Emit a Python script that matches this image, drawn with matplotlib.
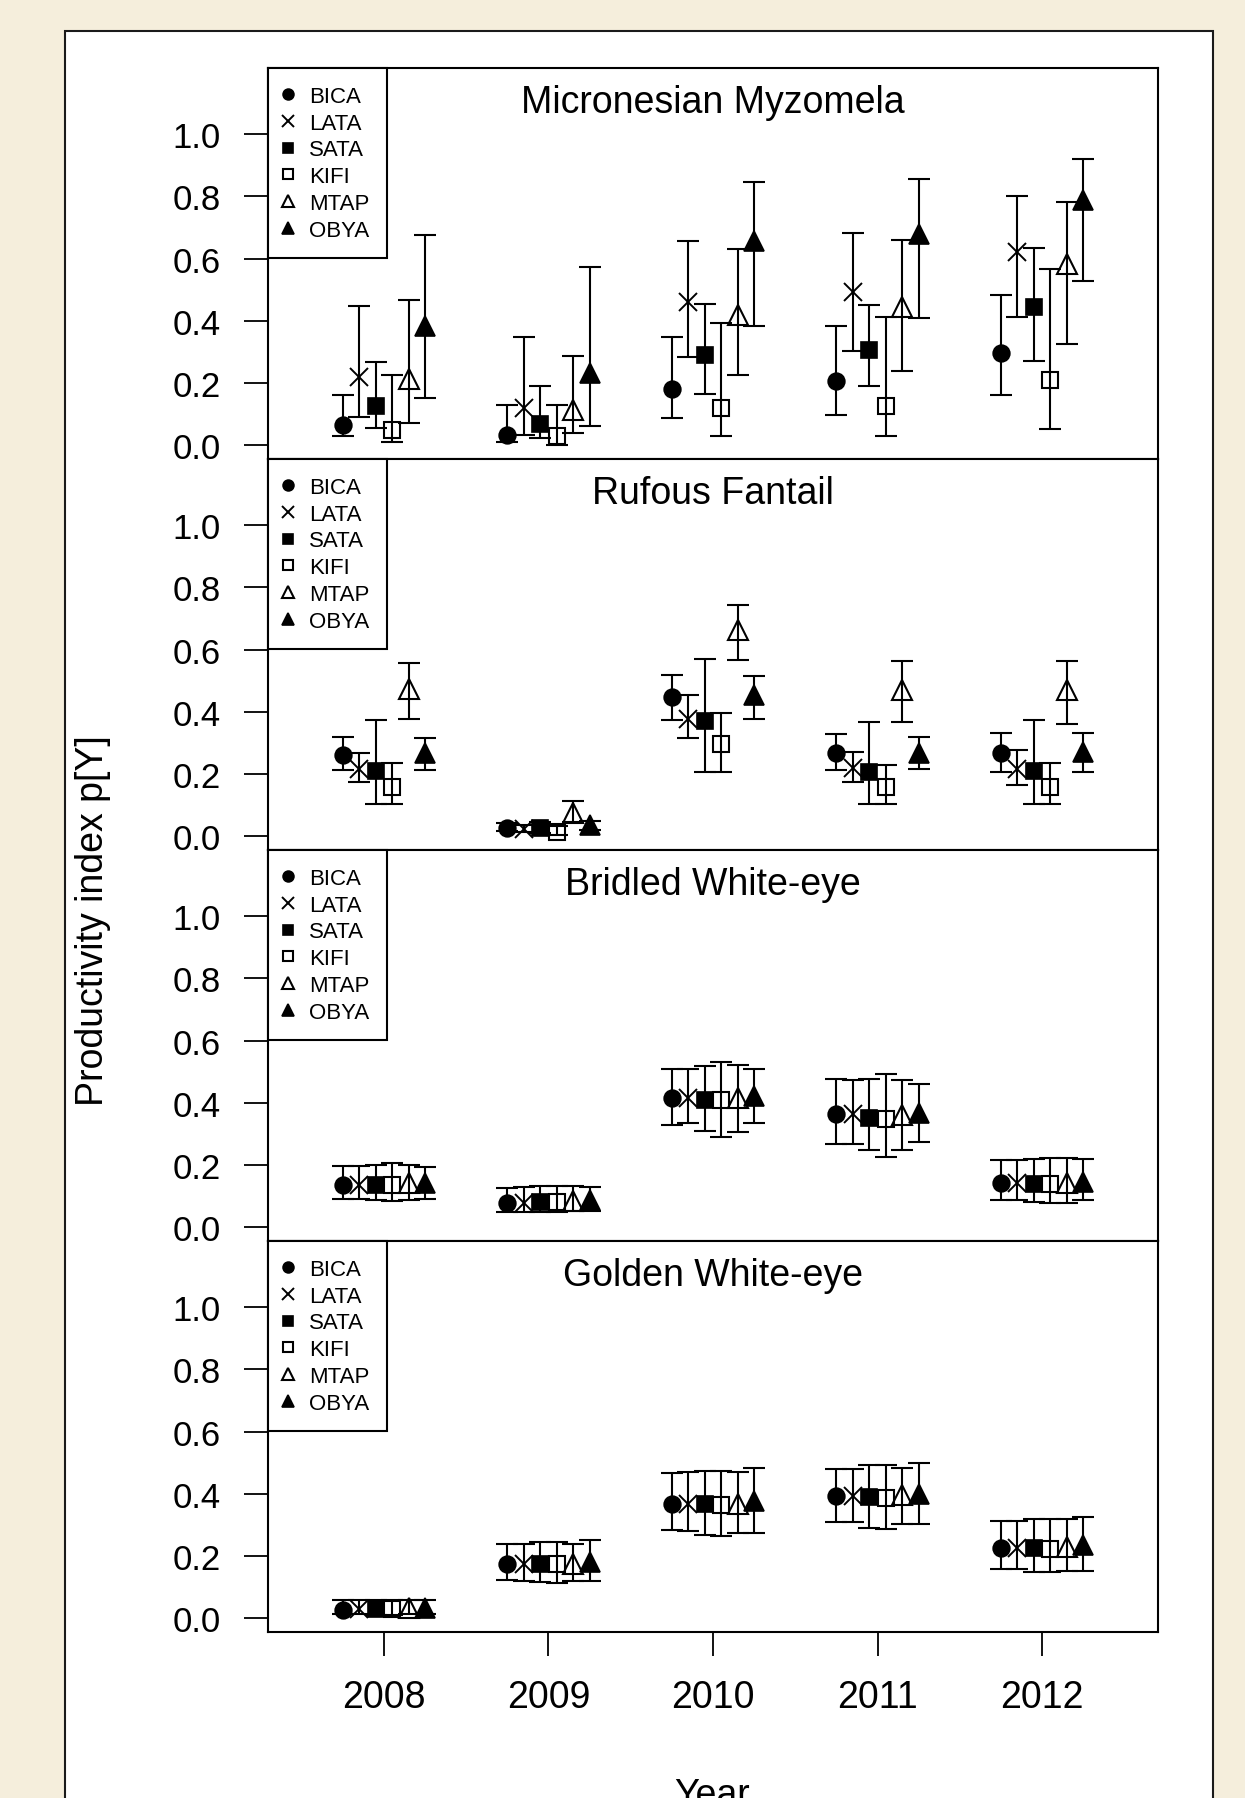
import numpy as np
import matplotlib.pyplot as plt
from matplotlib.lines import Line2D
from matplotlib.patches import Rectangle

plt.rcParams['font.family'] = ['Liberation Sans', 'DejaVu Sans']

years = [2008, 2009, 2010, 2011, 2012]
sites = ['BICA', 'LATA', 'SATA', 'KIFI', 'MTAP', 'OBYA']
species = ['Micronesian Myzomela', 'Rufous Fantail', 'Bridled White-eye', 'Golden White-eye']

# rows = sites, columns = years
mimy_mean = [[0.065, 0.032, 0.180, 0.204, 0.296],
             [0.217, 0.118, 0.460, 0.492, 0.622],
             [0.126, 0.067, 0.288, 0.304, 0.444],
             [0.048, 0.027, 0.118, 0.124, 0.207],
             [0.212, 0.113, 0.419, 0.444, 0.581],
             [0.382, 0.231, 0.656, 0.678, 0.790]]
mimy_lo = [[0.027, 0.009, 0.085, 0.097, 0.160],
           [0.088, 0.032, 0.282, 0.303, 0.412],
           [0.054, 0.022, 0.163, 0.190, 0.269],
           [0.009, 0.000, 0.027, 0.029, 0.051],
           [0.070, 0.038, 0.224, 0.237, 0.323],
           [0.151, 0.061, 0.384, 0.409, 0.527]]
mimy_hi = [[0.161, 0.127, 0.347, 0.382, 0.483],
           [0.446, 0.347, 0.658, 0.683, 0.800],
           [0.267, 0.188, 0.454, 0.449, 0.634],
           [0.224, 0.127, 0.392, 0.411, 0.565],
           [0.466, 0.287, 0.632, 0.660, 0.783],
           [0.676, 0.573, 0.848, 0.857, 0.922]]

rufa_mean = [[0.261, 0.026, 0.447, 0.268, 0.265],
             [0.214, 0.023, 0.377, 0.218, 0.214],
             [0.207, 0.026, 0.369, 0.205, 0.207],
             [0.157, 0.012, 0.294, 0.157, 0.157],
             [0.474, 0.073, 0.662, 0.469, 0.469],
             [0.268, 0.033, 0.453, 0.268, 0.270]]
rufa_lo = [[0.213, 0.015, 0.374, 0.211, 0.205],
           [0.173, 0.012, 0.315, 0.173, 0.165],
           [0.103, 0.010, 0.205, 0.103, 0.103],
           [0.103, 0.003, 0.205, 0.101, 0.101],
           [0.375, 0.044, 0.565, 0.365, 0.361],
           [0.213, 0.020, 0.377, 0.216, 0.205]]
rufa_hi = [[0.317, 0.040, 0.517, 0.327, 0.331],
           [0.265, 0.036, 0.453, 0.270, 0.277],
           [0.372, 0.045, 0.571, 0.367, 0.372],
           [0.235, 0.030, 0.396, 0.229, 0.233],
           [0.557, 0.112, 0.743, 0.562, 0.563],
           [0.315, 0.046, 0.515, 0.318, 0.332]]

brwe_mean = [[0.135, 0.078, 0.415, 0.364, 0.140],
             [0.135, 0.078, 0.415, 0.364, 0.140],
             [0.135, 0.080, 0.407, 0.350, 0.138],
             [0.135, 0.080, 0.407, 0.347, 0.138],
             [0.140, 0.082, 0.415, 0.360, 0.140],
             [0.140, 0.085, 0.422, 0.365, 0.145]]
brwe_lo = [[0.089, 0.049, 0.328, 0.266, 0.086],
           [0.089, 0.049, 0.334, 0.266, 0.086],
           [0.087, 0.047, 0.307, 0.246, 0.080],
           [0.083, 0.046, 0.288, 0.226, 0.078],
           [0.087, 0.050, 0.304, 0.248, 0.078],
           [0.089, 0.050, 0.334, 0.273, 0.086]]
brwe_hi = [[0.196, 0.126, 0.509, 0.477, 0.215],
           [0.196, 0.128, 0.509, 0.474, 0.215],
           [0.200, 0.130, 0.517, 0.477, 0.218],
           [0.205, 0.132, 0.531, 0.493, 0.221],
           [0.200, 0.130, 0.522, 0.474, 0.221],
           [0.194, 0.128, 0.508, 0.461, 0.218]]

gowe_mean = [[0.026, 0.172, 0.368, 0.392, 0.225],
             [0.027, 0.172, 0.368, 0.392, 0.225],
             [0.028, 0.174, 0.365, 0.389, 0.225],
             [0.028, 0.172, 0.362, 0.387, 0.223],
             [0.030, 0.174, 0.368, 0.395, 0.227],
             [0.030, 0.180, 0.375, 0.400, 0.233]]
gowe_lo = [[0.011, 0.121, 0.282, 0.309, 0.156],
           [0.011, 0.119, 0.280, 0.309, 0.156],
           [0.010, 0.115, 0.266, 0.289, 0.148],
           [0.010, 0.113, 0.262, 0.285, 0.148],
           [0.012, 0.119, 0.272, 0.302, 0.150],
           [0.012, 0.117, 0.272, 0.302, 0.152]]
gowe_hi = [[0.056, 0.237, 0.465, 0.479, 0.311],
           [0.056, 0.237, 0.470, 0.479, 0.311],
           [0.057, 0.244, 0.474, 0.492, 0.317],
           [0.057, 0.244, 0.474, 0.492, 0.317],
           [0.058, 0.237, 0.470, 0.481, 0.317],
           [0.058, 0.250, 0.481, 0.497, 0.325]]

panels = [(mimy_mean, mimy_lo, mimy_hi),
          (rufa_mean, rufa_lo, rufa_hi),
          (brwe_mean, brwe_lo, brwe_hi),
          (gowe_mean, gowe_lo, gowe_hi)]

offsets = [-0.25, -0.15, -0.05, 0.05, 0.15, 0.25]
styles = [dict(marker='o', ms=12, mfc='black', mew=1.2),
          dict(marker='x', ms=13, mfc='black', mew=1.4),
          dict(marker='s', ms=11, mfc='black', mew=1.2),
          dict(marker='s', ms=11, mfc='none', mew=1.5),
          dict(marker='^', ms=14, mfc='none', mew=1.5),
          dict(marker='^', ms=14, mfc='black', mew=1.2)]

W, H = 1245, 1799
fig = plt.figure(figsize=(W / 100, H / 100), dpi=100, facecolor='#F5EEDC')
fig.add_artist(Rectangle((65 / W, -0.02), (1213 - 65) / W, (H - 32) / H + 0.02,
                         transform=fig.transFigure, facecolor='white',
                         edgecolor='#1a1a1a', lw=1.5, zorder=0))

top0, ph = 69, 391
for i, (name, (mean, lo, hi)) in enumerate(zip(species, panels)):
    ax = fig.add_axes([268 / W, 1 - (top0 + ph * (i + 1)) / H, 890 / W, ph / H])
    mean, lo, hi = np.array(mean), np.array(lo), np.array(hi)
    for s in range(len(sites)):
        x = np.array(years) + offsets[s]
        ax.errorbar(x, mean[s], yerr=[mean[s] - lo[s], hi[s] - mean[s]], fmt='none',
                    ecolor='black', elinewidth=1.5, capsize=8, capthick=1.5)
        ax.plot(x, mean[s], ls='none', color='black', mec='black', **styles[s])
    ax.set_xlim(2007.295, 2012.705)
    ax.set_ylim(-0.046, 1.214)
    yt = np.arange(0, 1.01, 0.2)
    ax.set_yticks(yt)
    ax.set_yticklabels([f'{v:.1f}' for v in yt])
    ax.tick_params(axis='y', direction='out', length=17, width=1.3, pad=17, labelsize=25)
    if i < 3:
        ax.set_xticks([])
    else:
        ax.set_xticks(years)
        ax.set_xticklabels([str(y) for y in years])
        ax.tick_params(axis='x', direction='out', length=17, width=1.3, pad=17, labelsize=27)
    for sp in ax.spines.values():
        sp.set_linewidth(1.5)
    ax.text(0.5, 1 - 34 / ph, name, transform=ax.transAxes, ha='center', va='center',
            fontsize=27)
    handles = [Line2D([], [], ls='none', color='black', mec='black', **st) for st in styles]
    leg = ax.legend(handles, sites, loc='upper left', bbox_to_anchor=(0, 1),
                    borderaxespad=0, frameon=True, fancybox=False, edgecolor='black',
                    framealpha=1, fontsize=16, handlelength=0.2, handletextpad=0.85,
                    borderpad=0.8, labelspacing=0.26, markerscale=0.65)
    leg.get_frame().set_linewidth(1.5)

fig.text(93 / W, 1 - 921 / H, 'Productivity index p[Y]', rotation=90,
         ha='center', va='center', fontsize=27)
fig.text(712 / W, 1 - 1806 / H, 'Year', ha='center', va='baseline', fontsize=27)

fig.savefig('out.png', dpi=100, facecolor=fig.get_facecolor())
